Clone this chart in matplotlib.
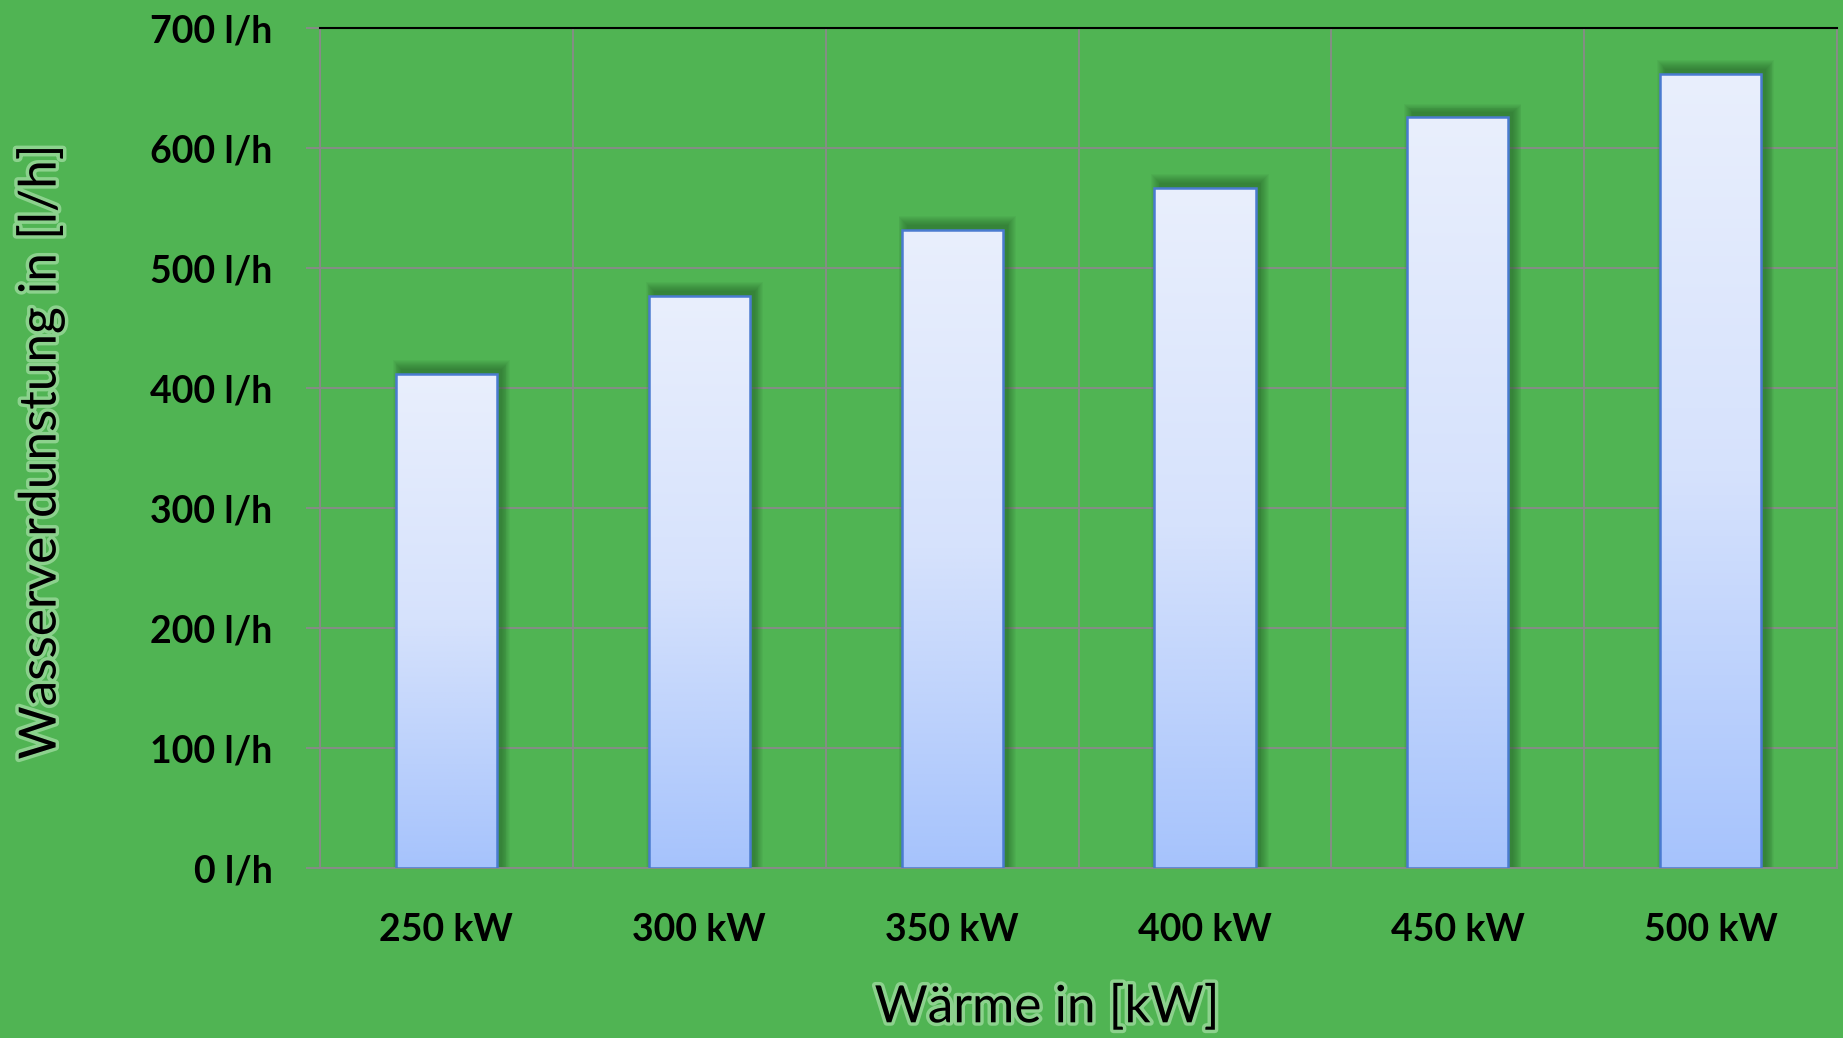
import matplotlib
matplotlib.use('Agg')
import matplotlib.pyplot as plt
import matplotlib.patheffects as pe
import numpy as np

# data
categories = ['250 kW', '300 kW', '350 kW', '400 kW', '450 kW', '500 kW']
values = [412, 477, 532, 567, 626, 662]
yticks = [0, 100, 200, 300, 400, 500, 600, 700]
ytick_labels = ['%d l/h' % v for v in yticks]

bg = '#50b453'
grid_col = '#8a8a8a'
edge_col = '#4a7bd0'

plt.rcParams['font.family'] = ['Lato', 'DejaVu Sans']

figure = plt.figure(figsize=(18.43, 10.38), dpi=100)
figure.patch.set_facecolor(bg)
figure.subplots_adjust(left=0.1736, right=0.9968, bottom=0.1635, top=0.9727)
axes = figure.add_subplot(111)
axes.set_facecolor(bg)

x = np.arange(len(categories))
w = 0.4

# soft shadow: growing translucent layers behind each bar
for k in range(10):
    grow = 0.0035 * k
    axes.bar(x + 0.02, np.array(values) + 4 + 0.8 * k, width=w + 2 * grow,
             color='#1a4f1d', alpha=0.055, linewidth=0, zorder=2)

bars = axes.bar(x, values, width=w, facecolor='none', edgecolor=edge_col,
                linewidth=1.8, zorder=4)

# vertical gradient inside each bar
grad = np.linspace(0, 1, 256).reshape(-1, 1)
cmap = matplotlib.colors.LinearSegmentedColormap.from_list(
    'barfill', ['#a6c3fc', '#d6e2fc', '#e9effd'])
for b in bars:
    x0, y0 = b.get_x(), b.get_y()
    im = axes.imshow(grad, extent=[x0, x0 + b.get_width(), y0, y0 + b.get_height()],
                     origin='lower', cmap=cmap, aspect='auto', zorder=3)
    im.set_clip_path(b)

axes.set_xlim(-0.5, len(categories) - 0.5)
axes.set_ylim(0, 700)

axes.set_yticks(yticks)
axes.set_yticklabels(ytick_labels)
axes.set_xticks(x)
axes.set_xticklabels(categories)
axes.set_xticks(np.arange(len(categories) + 1) - 0.5, minor=True)

axes.grid(axis='y', which='major', color=grid_col, linewidth=1.3, zorder=1)
axes.grid(axis='x', which='minor', color=grid_col, linewidth=1.3, zorder=1)
axes.set_axisbelow(True)

axes.tick_params(axis='y', length=10, width=1.3, color=grid_col, pad=24,
                 labelsize=27)
axes.tick_params(axis='x', which='both', length=0, pad=32, labelsize=27)
for lab in axes.get_xticklabels() + axes.get_yticklabels():
    lab.set_fontweight('bold')
    lab.set_color('black')

for side in ['left', 'right', 'bottom']:
    axes.spines[side].set_color(grid_col)
    axes.spines[side].set_linewidth(1.3)
axes.spines['top'].set_color('black')
axes.spines['top'].set_linewidth(1.5)

glow = [pe.withStroke(linewidth=5, foreground='#c8f0c8', alpha=0.5)]
figure.text(0.022, 1 - 452 / 1038, 'Wasserverdunstung in [l/h]', rotation=90,
            ha='center', va='center', fontsize=37, color='black', path_effects=glow)
figure.text(1047 / 1843, 1 - 1008 / 1038, 'Wärme in [kW]', ha='center',
            va='center', fontsize=37, color='black', path_effects=glow)

figure.savefig('out.png', dpi=100, facecolor=bg)
